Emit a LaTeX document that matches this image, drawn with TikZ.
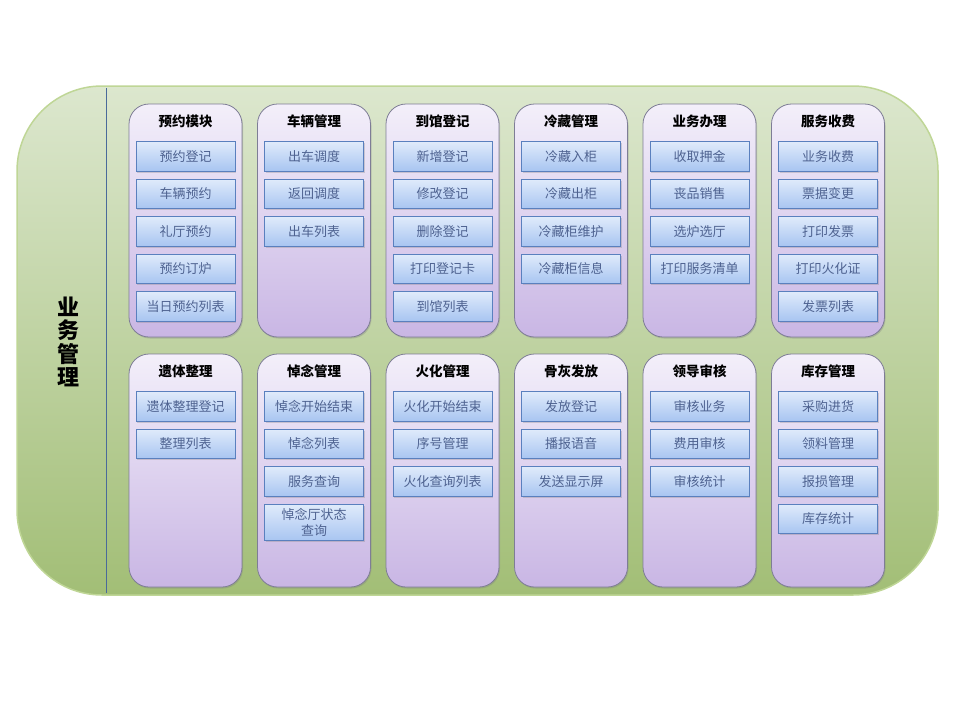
\documentclass[tikz,border=0pt]{standalone}
\usepackage{fontspec}
\setmainfont{Noto Sans CJK SC}
\usetikzlibrary{positioning,shadows}

\definecolor{frametop}{HTML}{DCE7CE}
\definecolor{framebot}{HTML}{A2BE76}
\definecolor{framedge}{HTML}{BFD696}
\definecolor{sepline}{HTML}{4A6A9A}
\definecolor{grouptop}{HTML}{F3EFFA}
\definecolor{groupbot}{HTML}{C9B6E4}
\definecolor{groupedge}{HTML}{7E7D96}
\definecolor{itemtop}{HTML}{E0EBFB}
\definecolor{itembot}{HTML}{A8C5F1}
\definecolor{itemedge}{HTML}{5A80BE}
\definecolor{itemtext}{HTML}{4E6290}

\begin{document}
\begin{tikzpicture}[
x=1pt, y=-1pt,
node distance=7.2pt,
frame/.style={
draw=framedge,
line width=1.5pt,
rounded corners=85pt,
top color=frametop,
bottom color=framebot,
minimum width=921pt,
minimum height=509pt},
group/.style={
draw=groupedge,
line width=0.8pt,
rounded corners=20pt,
top color=grouptop,
bottom color=groupbot,
minimum width=113pt,
minimum height=233pt,
drop shadow={opacity=0.35,shadow xshift=1pt,shadow yshift=-1.5pt}},
title/.style={font=\fontsize{13.5}{15}\selectfont\bfseries},
item/.style={
draw=itemedge,
line width=0.8pt,
top color=itemtop,
bottom color=itembot,
minimum width=99pt,
minimum height=29.5pt,
inner xsep=3pt,
inner ysep=4.5pt,
align=center,
text=itemtext,
font=\fontsize{13}{15.5}\selectfont,
drop shadow={opacity=0.3,shadow xshift=1pt,shadow yshift=-1.5pt}}
]
\useasboundingbox (0,0) rectangle (960,720);

% outer frame and side label
\node[frame] (frame) at (477.5,340.5) {};
\coordinate (septop) at (106,88);
\coordinate (sepbot) at (106,593);
\draw[sepline,line width=0.8pt] (septop) -- (sepbot);
\node[align=center,font=\fontsize{22}{23.5}\selectfont\bfseries] (side) at (68,342) {业\\务\\管\\理};

% module columns
\foreach \col/\cx/\cy/\ttl/\lst in {
a/185.5/220.5/预约模块/{预约登记,车辆预约,礼厅预约,预约订炉,当日预约列表},
b/314/220.5/车辆管理/{出车调度,返回调度,出车列表},
c/442.5/220.5/到馆登记/{新增登记,修改登记,删除登记,打印登记卡,到馆列表},
d/571/220.5/冷藏管理/{冷藏入柜,冷藏出柜,冷藏柜维护,冷藏柜信息},
e/699.5/220.5/业务办理/{收取押金,丧品销售,选炉选厅,打印服务清单},
f/828/220.5/服务收费/{业务收费,票据变更,打印发票,打印火化证,发票列表},
g/185.5/470.5/遗体整理/{遗体整理登记,整理列表},
h/314/470.5/悼念管理/{悼念开始结束,悼念列表,服务查询,悼念厅状态\\查询},
i/442.5/470.5/火化管理/{火化开始结束,序号管理,火化查询列表},
j/571/470.5/骨灰发放/{发放登记,播报语音,发送显示屏},
k/699.5/470.5/领导审核/{审核业务,费用审核,审核统计},
l/828/470.5/库存管理/{采购进货,领料管理,报损管理,库存统计}}{
\node[group] (\col) at (\cx,\cy) {};
\node[title] (\col-t) at (\cx,\cy-99) {\ttl};
\foreach \itm [count=\k] in \lst {
\ifnum\k=1
\node[item,below=37.5pt of \col.north] (\col-\k) {\itm};
\else
\pgfmathtruncatemacro\prev{\k-1}
\node[item,below=of \col-\prev] (\col-\k) {\itm};
\fi
}
}

\end{tikzpicture}
\end{document}
